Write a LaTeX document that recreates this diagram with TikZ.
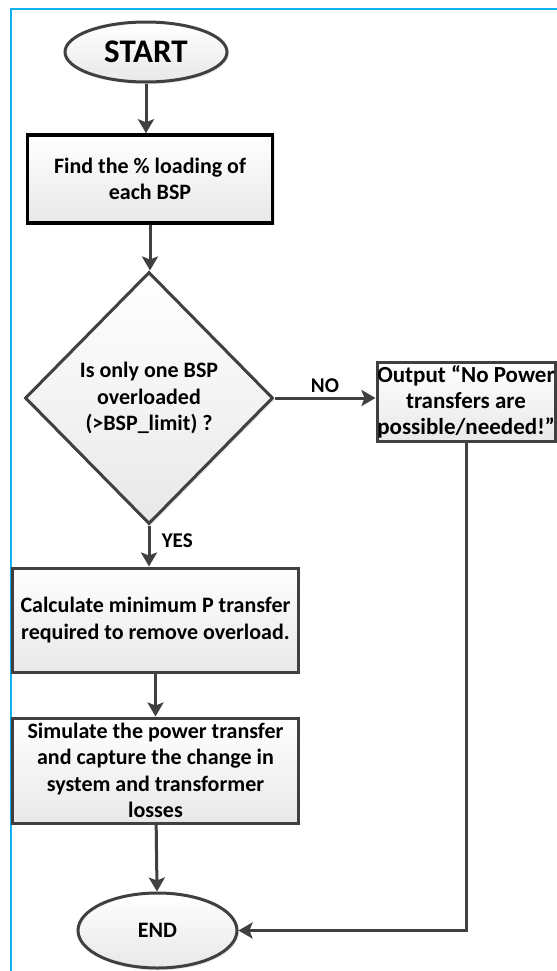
\documentclass[tikz,border=0pt]{standalone}
\usepackage{fontspec}
\setmainfont{Carlito}
\usetikzlibrary{arrows.meta,shapes.geometric,shadows,calc}
\definecolor{framecol}{RGB}{18,176,240}
\definecolor{inkgray}{RGB}{64,64,64}
\begin{document}
\begin{tikzpicture}[x=1bp,y=-1bp,
  font=\bfseries\fontsize{22bp}{26.5bp}\selectfont,
  shapebase/.style={draw=inkgray, line width=3bp, top color=white, bottom color=black!9,
    drop shadow={opacity=0.18, shadow xshift=2bp, shadow yshift=-2bp},
    inner sep=0pt, align=center},
  procbox/.style={shapebase, rectangle},
  terminal/.style={shapebase, ellipse},
  decision/.style={shapebase, diamond},
  flow/.style={draw=inkgray, line width=3bp, -{Stealth[length=14bp,width=16bp,inset=3bp]}},
  edgelabel/.style={font=\bfseries\fontsize{21bp}{24bp}\selectfont, text=black}
]
\useasboundingbox (0,0) rectangle (557,971);
% frame line along the left and top edges
\draw[framecol, line width=2.5bp] (11,985) -- (11,9) -- (575,9);

% flowchart nodes
\node[terminal, minimum width=162bp, minimum height=60bp,
      font=\bfseries\fontsize{33bp}{38bp}\selectfont] (start) at (146,52) {START};
\node[procbox, draw=black, line width=3.5bp, minimum width=245bp, minimum height=88bp]
      (find) at (150,179) {Find the \% loading of\\each BSP};
\node[decision, minimum width=248bp, minimum height=252bp]
      (check) at (149,398) {Is only one BSP\\overloaded\\(>BSP\_limit) ?};
\node[procbox, minimum width=178bp, minimum height=79bp,
      font=\bfseries\fontsize{23bp}{26bp}\selectfont]
      (none) at (466,401.5) {Output “No Power\\transfers are\\possible/needed!”};
\node[procbox, minimum width=285bp, minimum height=104bp]
      (calc) at (155.5,620) {Calculate minimum P transfer\\required to remove overload.};
\node[procbox, minimum width=285bp, minimum height=105bp]
      (sim) at (155.5,770.5) {Simulate the power transfer\\and capture the change in\\system and transformer\\losses};
\node[terminal, minimum width=159bp, minimum height=75bp,
      font=\bfseries\fontsize{22bp}{26bp}\selectfont] (finish) at (157.5,930.5) {END};

% connectors
\draw[flow] (start) -- (start |- find.north);
\draw[flow] (find.south) -- (find.south |- check.north);
\draw[flow] (check.east) -- (check.east -| none.west)
      node[edgelabel, midway, above, inner sep=4bp] {NO};
\draw[flow] (check.south) -- (check.south |- calc.north)
      node[edgelabel, pos=0.36, right, xshift=8bp] {YES};
\draw[flow] (calc) -- (sim);
\draw[flow] (sim) -- (finish);
\draw[flow] (none.south) |- (finish.east);
\end{tikzpicture}
\end{document}
